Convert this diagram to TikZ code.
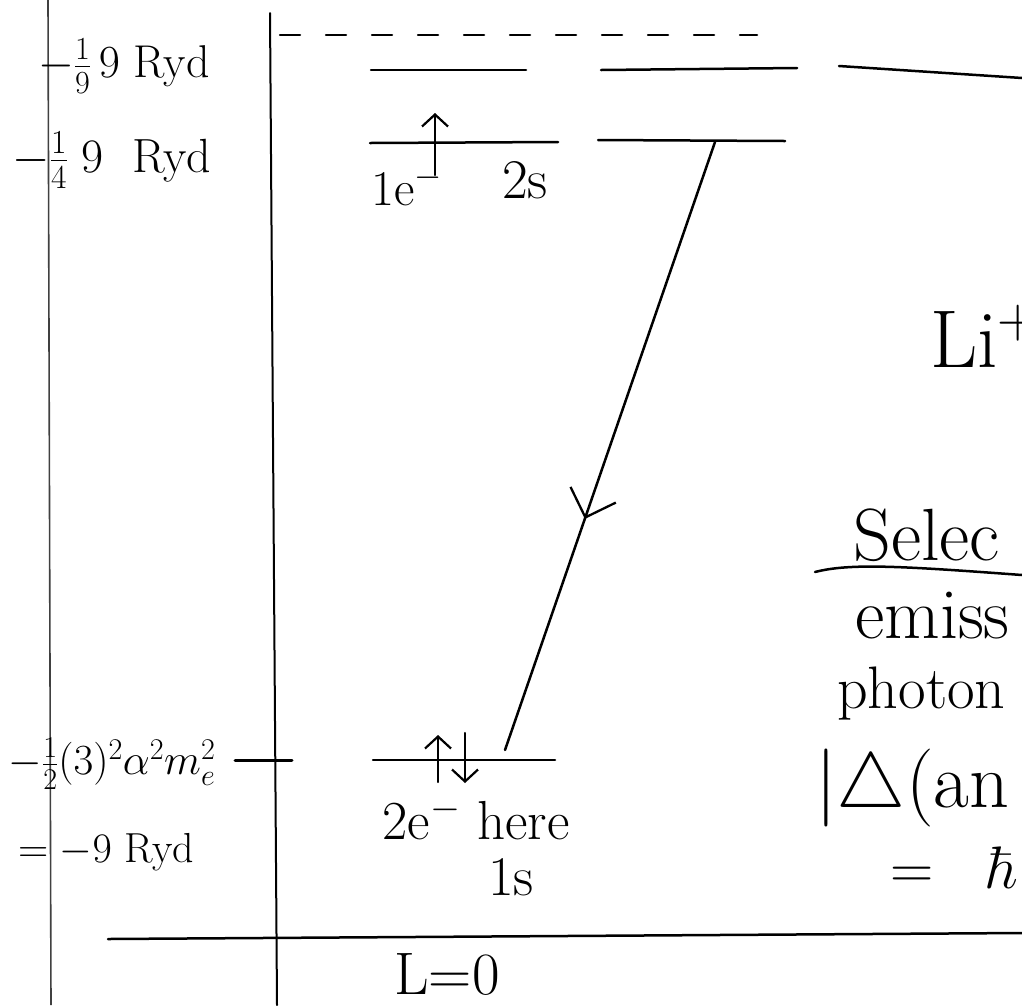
\RequirePackage{fix-cm}
\documentclass[tikz,border=0pt]{standalone}
\usetikzlibrary{arrows.meta,decorations.markings}
\newcommand{\fsz}[1]{\fontsize{#1}{#1}\selectfont}
\tikzset{
  ink/.style={line width=2.5pt, line cap=round, black},
  axisline/.style={line width=1.6pt, black!75},
  spin/.style={line width=2.2pt, line cap=round, -{Straight Barb[length=12pt,width=26pt,line width=2.2pt]}},
  lab/.style={inner sep=0pt, text=black},
  emission/.style={ink, postaction={decorate}, decoration={markings,
      mark=at position 0.62 with {\arrow{Straight Barb[length=24pt,width=48pt,line width=2.3pt]}}}},
}
\begin{document}
\begin{tikzpicture}[x=1pt,y=-1pt]
\useasboundingbox (0,0) rectangle (1022,1005);
\clip (0,0) rectangle (1022,1005);
\fill[white] (0,0) rectangle (1022,1005);

% axes
\coordinate (ax1t) at (48,0);   \coordinate (ax1b) at (51,1005);
\coordinate (ax2t) at (270,13); \coordinate (ax2b) at (277,1005);
\draw[axisline] (ax1t) -- (ax1b);
\draw[ink, line width=2pt] (ax2t) -- (ax2b);

% tick at ground level
\coordinate (tkL) at (235,760); \coordinate (tkR) at (292,760);
\draw[ink, line width=3pt] (tkL) -- (tkR);

% ionisation limit (dashed)
\coordinate (dA) at (280,35); \coordinate (dB) at (757,35);
\draw[ink, dash pattern=on 20pt off 26pt] (dA) -- (dB);

% n=3 levels
\coordinate (a1) at (371,70); \coordinate (a2) at (526,70);
\coordinate (a3) at (601,70); \coordinate (a4) at (797,68);
\coordinate (a5) at (839,66); \coordinate (a6) at (1022,78);
\draw[ink] (a1) -- (a2);
\draw[ink] (a3) -- (a4);
\draw[ink] (a5) -- (a6);

% n=2 levels
\coordinate (b1) at (370,143); \coordinate (b2) at (558,142);
\coordinate (b3) at (598,140); \coordinate (b4) at (785,141);
\draw[ink] (b1) -- (b2);
\draw[ink] (b3) -- (b4);

% 1s level
\coordinate (c1) at (373,760); \coordinate (c2) at (555,760);
\draw[ink] (c1) -- (c2);

% L=0 baseline
\coordinate (g1) at (108,939); \coordinate (g2) at (1022,933);
\draw[ink] (g1) -- (g2);

% spins
\coordinate (u2a) at (435,175); \coordinate (u2b) at (435,113);
\draw[spin] (u2a) -- (u2b);
\coordinate (u1a) at (438,782); \coordinate (u1b) at (438,735);
\draw[spin] (u1a) -- (u1b);
\coordinate (d1a) at (465,733); \coordinate (d1b) at (465,783);
\draw[spin] (d1a) -- (d1b);

% transition 2s -> 1s
\coordinate (t2) at (715,142); \coordinate (t1) at (505,750);
\draw[emission] (t2) -- (t1);

% left labels
\node[lab, font=\fsz{46}] (l9) at (124,66) {$-\frac{1}{9}\,9$\ Ryd};
\node[lab, font=\fsz{48}] (l4) at (112,160) {$-\frac{1}{4}\;9$\ \ Ryd};
\node[lab, font=\fsz{43}] (l1s) at (112,764) {$-\frac{1}{2}(3)^2\alpha^2m_e^2$};
\node[lab, font=\fsz{42}] (leq) at (106,852) {$=-9$\ Ryd};

% level labels
\node[lab, font=\fsz{50}] (e1) at (407,186) {1e$^-$};
\node[lab, font=\fsz{56}] (s2) at (525,180) {2s};
\node[lab, font=\fsz{55}] (here) at (476,818) {2e$^-$ here};
\node[lab, font=\fsz{56}] (s1) at (511,877) {1s};
\node[lab, font=\fsz{60}] (L0) at (447,974) {L=0};

% right-hand notes (cut off by the page edge)
\node[lab, font=\fsz{82}, anchor=base west] (li) at (930,367) {Li$^+$};
\node[lab, font=\fsz{74}, anchor=base west] (sel) at (853,560) {Selec};
\coordinate (u1) at (815,572); \coordinate (u2) at (1022,575);
\draw[ink] (u1) .. controls (850,563) and (900,566) .. (u2);
\node[lab, font=\fsz{72}, anchor=base west] (emi) at (855,638) {emiss};
\node[lab, font=\fsz{60}, anchor=base west] (pho) at (837,708) {photon};
\node[lab, font=\fsz{78}, anchor=base west] (ang) at (815,807) {$|\triangle($an};
\node[lab, font=\fsz{60}, anchor=base west] (hb) at (890,888) {$=$\hspace{0.9em}$\hbar$};
\end{tikzpicture}
\end{document}
